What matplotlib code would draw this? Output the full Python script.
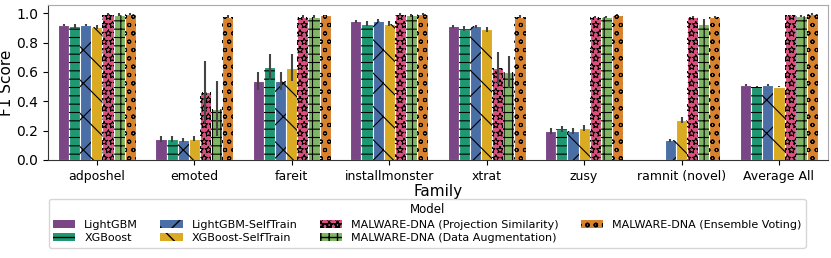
import matplotlib
matplotlib.use("Agg")
import matplotlib.pyplot as plt
import matplotlib.hatch as mhatch
import numpy as np

# outlined stars like the reference
mhatch.Stars.filled = False
mhatch.Stars.size = 0.42

families = ["adposhel", "emoted", "fareit", "installmonster", "xtrat", "zusy", "ramnit (novel)", "Average All"]
models = ["LightGBM", "XGBoost", "LightGBM-SelfTrain", "XGBoost-SelfTrain",
          "MALWARE-DNA (Projection Similarity)", "MALWARE-DNA (Data Augmentation)",
          "MALWARE-DNA (Ensemble Voting)"]

lightgbm = [0.92, 0.14, 0.54, 0.945, 0.91, 0.20, 0.0, 0.51]
xgboost = [0.91, 0.145, 0.635, 0.93, 0.895, 0.21, 0.0, 0.50]
lightgbm_st = [0.92, 0.135, 0.54, 0.95, 0.91, 0.20, 0.135, 0.51]
xgboost_st = [0.905, 0.145, 0.63, 0.93, 0.89, 0.215, 0.27, 0.50]
mdna_ps = [0.995, 0.465, 0.975, 0.99, 0.625, 0.975, 0.975, 0.985]
mdna_da = [0.99, 0.35, 0.975, 0.985, 0.60, 0.975, 0.93, 0.98]
mdna_ev = [0.995, 0.975, 0.985, 0.995, 0.975, 0.99, 0.975, 0.995]

err_lightgbm = [0.01, 0.02, 0.06, 0.01, 0.01, 0.02, 0.0, 0.005]
err_xgboost = [0.015, 0.02, 0.09, 0.015, 0.015, 0.02, 0.0, 0.005]
err_lightgbm_st = [0.01, 0.015, 0.06, 0.01, 0.01, 0.02, 0.01, 0.005]
err_xgboost_st = [0.015, 0.015, 0.09, 0.015, 0.015, 0.02, 0.02, 0.005]
err_mdna_ps = [0.005, 0.21, 0.01, 0.01, 0.11, 0.005, 0.005, 0.005]
err_mdna_da = [0.01, 0.19, 0.01, 0.01, 0.11, 0.005, 0.03, 0.005]
err_mdna_ev = [0.005, 0.01, 0.005, 0.005, 0.01, 0.005, 0.005, 0.005]

values = [lightgbm, xgboost, lightgbm_st, xgboost_st, mdna_ps, mdna_da, mdna_ev]
errors = [err_lightgbm, err_xgboost, err_lightgbm_st, err_xgboost_st, err_mdna_ps, err_mdna_da, err_mdna_ev]
colors = ["#7a4686", "#1f9772", "#4a6ea6", "#d9aa22", "#d9507c", "#80b565", "#d9822d"]
hatches = ["", "--", "x", "\\", "**", "++", "oo"]
hatch_lws = [0.8, 0.8, 0.8, 0.8, 0.5, 0.8, 0.7]

fig, ax = plt.subplots(figsize=(8.31, 2.58), dpi=100)
fig.subplots_adjust(left=0.058, right=0.996, top=0.981, bottom=0.380)

x = np.arange(len(families))
n = len(models)
w = 0.8 / n
handles = []
for i in range(n):
    pos = x - 0.4 + w * (i + 0.5)
    ax.bar(pos, values[i], width=w, color=colors[i], edgecolor="white", linewidth=0.8, zorder=2)
    with plt.rc_context({"hatch.linewidth": hatch_lws[i]}):
        hb = ax.bar(pos, values[i], width=w, color="none", edgecolor="black", hatch=hatches[i], linewidth=0, zorder=3)
        h = plt.Rectangle((0, 0), 1, 1, facecolor=colors[i], edgecolor="black", hatch=hatches[i], linewidth=0)
    for p in list(hb) + [h]:
        if hasattr(p, "set_hatch_linewidth"):
            p.set_hatch_linewidth(hatch_lws[i])
    ax.errorbar(pos, values[i], yerr=errors[i], fmt="none", ecolor="#444444", elinewidth=1.5, zorder=4)
    handles.append(h)

ax.set_xlim(-0.5, len(families) - 0.5)
ax.set_ylim(0, 1.057)
ax.set_yticks([0.0, 0.2, 0.4, 0.6, 0.8, 1.0])
ax.set_xticks(x)
ax.set_xticklabels(families, fontsize=9)
ax.tick_params(axis="y", labelsize=10)
ax.set_ylabel("F1 Score", fontsize=11, labelpad=2)
ax.set_xlabel("Family", fontsize=11, labelpad=1)
ax.spines["top"].set_color("#aaaaaa")
ax.spines["right"].set_color("#aaaaaa")
ax.spines["left"].set_color("#333333")
ax.spines["bottom"].set_color("#333333")

leg = fig.legend(handles, models, title="Model", ncol=4, loc="lower center",
                 bbox_to_anchor=(0.514, 0.019), fontsize=8, title_fontsize=8.5,
                 handlelength=2.0, columnspacing=2.0, borderpad=0.4, labelspacing=0.3,
                 frameon=True)

fig.savefig("out.png", dpi=100)
